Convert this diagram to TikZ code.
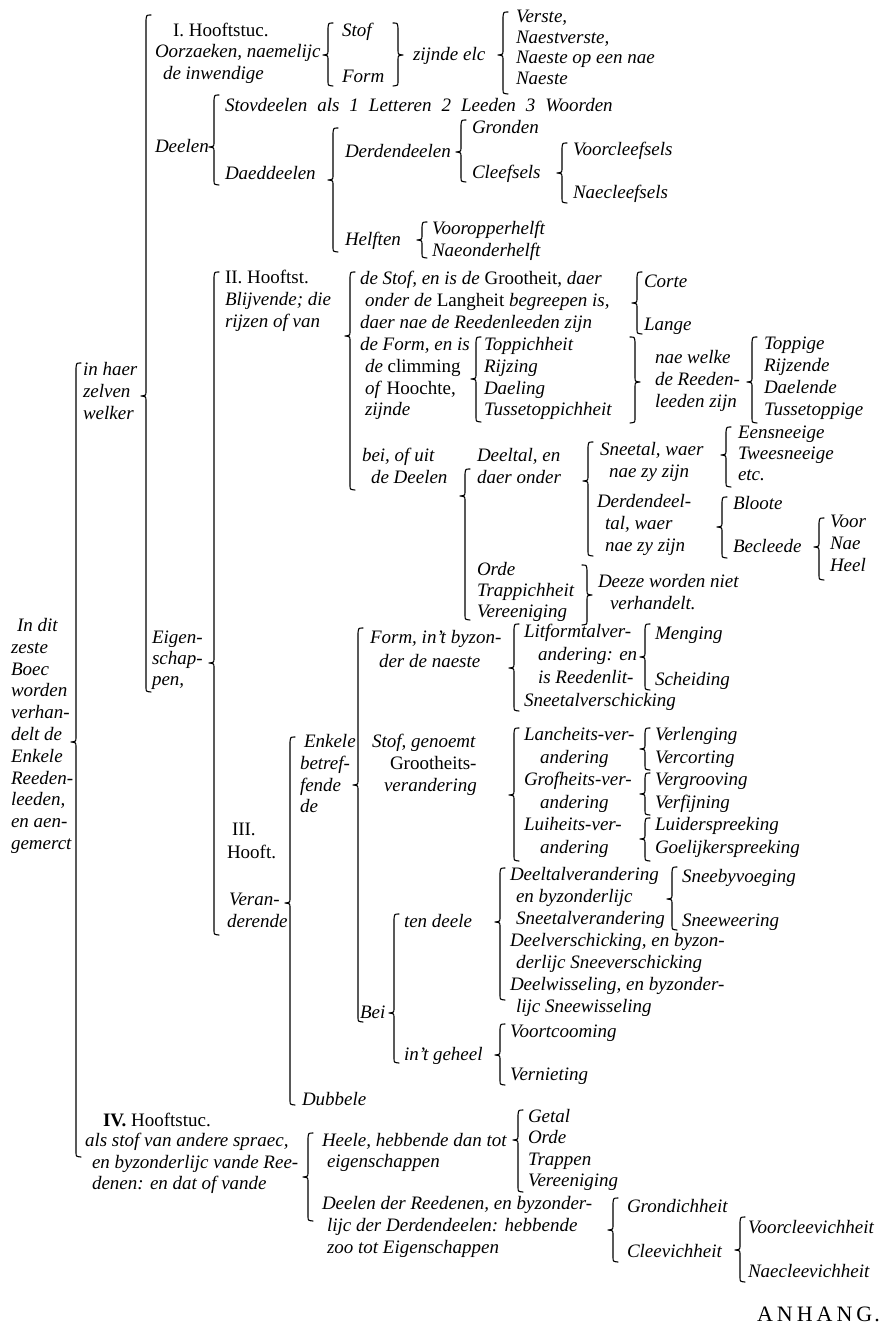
\documentclass[tikz,border=0pt]{standalone}
\usepackage{fontspec}
\setmainfont{Liberation Serif}
\newcommand{\tf}{\fontsize{19}{21.8}\selectfont\itshape}
\newcommand{\brL}[4]{\draw[br] (#1+5,#2) .. controls (#1+0.5,#2) .. (#1,#2+5) -- (#1,#4-5) .. controls (#1,#4-0.5) .. (#1-5,#4) .. controls (#1,#4+0.5) .. (#1,#4+5) -- (#1,#3-5) .. controls (#1,#3-0.5) .. (#1+5,#3);}
\newcommand{\brR}[4]{\draw[br] (#1-5,#2) .. controls (#1-0.5,#2) .. (#1,#2+5) -- (#1,#4-5) .. controls (#1,#4-0.5) .. (#1+5,#4) .. controls (#1,#4+0.5) .. (#1,#4+5) -- (#1,#3-5) .. controls (#1,#3-0.5) .. (#1-5,#3);}
\tikzset{
  txt/.style={anchor=north west, inner sep=0pt, outer sep=0pt, align=left, font=\tf, yshift=9.76pt, execute at begin node={\strut}},
  utxt/.style={txt, font=\tf\upshape},
  br/.style={line width=1.1pt, line cap=round, line join=round},
}
\begin{document}
\begin{tikzpicture}[x=1pt,y=-1pt]
\useasboundingbox (0,0) rectangle (890,1327);
\fill[white] (0,0) rectangle (890,1327);

% ---------- root ----------
\node[txt] (root) at (11,628) {\hspace*{6pt}In dit\\zeste\\Boec\\worden\\verhan-\\delt de\\Enkele\\Reeden-\\leeden,\\en aen-\\gemerct};
\node[txt] (haer) at (83,372) {in haer\\zelven\\welker};

% ---------- I ----------
\node[utxt] (h1) at (173,31) {I. Hooftstuc.};
\node[txt] (oorz) at (155,54) {Oorzaeken, naemelijc\\\hspace*{8pt}de inwendige};
\node[txt] (stof) at (342,31) {Stof};
\node[txt] (form) at (342,77) {Form};
\node[txt] (zijnde) at (413,55) {zijnde elc};
\node[txt] (verste) at (516,20) {Verste,\\[-1.3pt]Naestverste,\\[-1.3pt]Naeste op een nae\\[-1.3pt]Naeste};
\node[txt] (stov) at (225,106) {\spaceskip=10pt plus 1pt\relax Stovdeelen als 1 Letteren 2 Leeden 3 Woorden};
\node[txt] (deelen) at (155,147) {Deelen};
\node[txt] (daed) at (225,174) {Daeddeelen};
\node[txt] (derd) at (345,152) {Derdendeelen};
\node[txt] (gronden) at (472,128) {Gronden};
\node[txt] (cleef) at (472,173) {Cleefsels};
\node[txt] (voorcl) at (573,150) {Voorcleefsels};
\node[txt] (naecl) at (573,193) {Naecleefsels};
\node[txt] (helften) at (345,240) {Helften};
\node[txt] (voorop) at (432,229) {Vooropperhelft};
\node[txt] (naeond) at (432,251) {Naeonderhelft};

% ---------- Eigenschappen / II ----------
\node[txt] (eigen) at (152,641) {Eigen-\\[-0.8pt]schap-\\[-0.8pt]pen,};
\node[txt] (h2) at (225,280) {\textup{II. Hooftst.}\\Blijvende; die\\rijzen of van};
\node[txt] (stof2) at (360,281) {de Stof, en is de \textup{Grootheit,} daer\\\hspace*{5pt}onder de \textup{Langheit} begreepen is,\\daer nae de Reedenleeden zijn};
\node[txt] (corte) at (644,282) {Corte};
\node[txt] (lange) at (644,325) {Lange};
\node[txt] (form2) at (360,347) {de Form, en is\\\hspace*{5pt}de \textup{climming}\\\hspace*{5pt}of \textup{Hoochte,}\\\hspace*{5pt}zijnde};
\node[txt] (toppich) at (484,347) {Toppichheit\\Rijzing\\Daeling\\Tussetoppichheit};
\node[txt] (naewelke) at (655,360) {nae welke\\de Reeden-\\leeden zijn};
\node[txt] (toppige) at (764,347) {Toppige\\Rijzende\\Daelende\\Tussetoppige};
\node[txt] (bei) at (362,458) {bei, of uit\\\hspace*{9pt}de Deelen};
\node[txt] (deeltal) at (477,458) {Deeltal, en\\daer onder};
\node[txt] (sneetal) at (600,452) {Sneetal, waer\\\hspace*{9pt}nae zy zijn};
\node[txt] (eens) at (738,436) {Eensneeige\\[-0.8pt]Tweesneeige\\[-0.8pt]etc.};
\node[txt] (derdtal) at (597,504) {Derdendeel-\\\hspace*{8pt}tal, waer\\\hspace*{8pt}nae zy zijn};
\node[txt] (bloote) at (733,504) {Bloote};
\node[txt] (becleede) at (733,547) {Becleede};
\node[txt] (voor) at (830,525) {Voor\\Nae\\Heel};
\node[txt] (orde) at (477,572) {Orde\\[-0.8pt]Trappichheit\\[-0.8pt]Vereeniging};
\node[txt] (deeze) at (598,584) {Deeze worden niet\\\hspace*{12pt}verhandelt.};

% ---------- III ----------
\node[utxt] (h3) at (227,833) {\hspace*{5pt}III.\\[1.2pt]Hooft.};
\node[txt] (veran) at (227,903) {\hspace*{2pt}Veran-\\derende};
\node[txt] (enkele) at (300,744) {\hspace*{4pt}Enkele\\betref-\\fende\\de};
\node[txt] (formb) at (370,640) {Form, in’t byzon-\\[2pt]\hspace*{9pt}der de naeste};
\node[txt] (litform) at (524,634) {Litformtalver-\\[1pt]\hspace*{14pt}andering: en\\[1pt]\hspace*{14pt}is Reedenlit-\\[1pt]Sneetalverschicking};
\node[txt] (menging) at (655,634) {Menging};
\node[txt] (scheiding) at (655,680) {Scheiding};
\node[txt] (stofb) at (372,744) {Stof, genoemt\\\hspace*{18pt}\textup{Grootheits-}\\\hspace*{12pt}verandering};
\node[txt] (lanch) at (524,737) {Lancheits-ver-\\[0.8pt]\hspace*{16pt}andering\\[0.8pt]Grofheits-ver-\\[0.8pt]\hspace*{16pt}andering\\[0.8pt]Luiheits-ver-\\[0.8pt]\hspace*{16pt}andering};
\node[txt] (verl) at (655,737) {Verlenging\\[0.8pt]Vercorting\\[0.8pt]Vergrooving\\[0.8pt]Verfijning\\[0.8pt]Luiderspreeking\\[0.8pt]Goelijkerspreeking};
\node[txt] (tendeele) at (404,922) {ten deele};
\node[txt] (bei2) at (360,1013) {Bei};
\node[txt] (geheel) at (404,1055) {in’t geheel};
\node[txt] (deeltalv) at (510,877) {Deeltalverandering\\[0.2pt]\hspace*{6pt}en byzonderlijc\\[0.2pt]\hspace*{6pt}Sneetalverandering\\[0.2pt]Deelverschicking, en byzon-\\[0.2pt]\hspace*{6pt}derlijc Sneeverschicking\\[0.2pt]Deelwisseling, en byzonder-\\[0.2pt]\hspace*{6pt}lijc Sneewisseling};
\node[txt] (sneeby) at (682,877) {Sneebyvoeging};
\node[txt] (sneew) at (682,921) {Sneeweering};
\node[txt] (voort) at (510,1032) {Voortcooming};
\node[txt] (vern) at (510,1075) {Vernieting};
\node[txt] (dubbele) at (302,1100) {Dubbele};

% ---------- IV ----------
\node[utxt] (h4) at (103,1121) {\textbf{IV.} Hooftstuc.};
\node[txt] (alsstof) at (85,1143) {als stof van andere spraec,\\[-0.3pt]\hspace*{7pt}en byzonderlijc vande Ree-\\[-0.3pt]\hspace*{7pt}denen: en dat of vande};
\node[txt] (heele) at (322,1143) {Heele, hebbende dan tot\\[-0.8pt]\hspace*{5pt}eigenschappen};
\node[txt] (deelender) at (322,1206) {Deelen der Reedenen, en byzonder-\\\hspace*{5pt}lijc der Derdendeelen: hebbende\\\hspace*{5pt}zoo tot Eigenschappen};
\node[txt] (getal) at (528,1119) {Getal\\[-0.4pt]Orde\\[-0.4pt]Trappen\\[-0.4pt]Vereeniging};
\node[txt] (grond) at (627,1207) {Grondichheit};
\node[txt] (cleev) at (627,1252) {Cleevichheit};
\node[txt] (voorclv) at (748,1228) {Voorcleevichheit};
\node[txt] (naeclv) at (748,1272) {Naecleevichheit};
\node[utxt, font=\fontsize{22}{21.8}\selectfont\upshape] (anhang) at (757,1316) {A\kern4pt N\kern4pt H\kern4pt A\kern4pt N\kern4pt G\kern2pt .};

% ---------- braces ----------
\brL{76}{363}{1157}{742}
\brL{146}{15}{692}{396}
\brL{328}{23}{86}{55}
\brR{398}{23}{86}{55}
\brL{503}{12}{94}{55}
\brL{214}{95}{185}{147}
\brL{333}{128}{252}{180}
\brL{461}{120}{182}{152}
\brL{562}{143}{203}{173}
\brL{422}{222}{258}{240}
\brL{214}{272}{935}{663}
\brL{350}{272}{490}{336}
\brL{637}{272}{334}{303}
\brL{476}{337}{422}{379}
\brR{635}{337}{423}{382}
\brL{752}{337}{423}{382}
\brL{465}{469}{620}{496}
\brL{588}{442}{556}{481}
\brL{726}{427}{487}{455}
\brL{722}{497}{558}{527}
\brL{819}{518}{580}{547}
\brR{587}{565}{625}{595}
\brL{290}{737}{1105}{903}
\brL{358}{628}{1022}{785}
\brL{514}{624}{711}{668}
\brL{645}{624}{690}{657}
\brL{514}{728}{861}{795}
\brL{645}{728}{770}{749}
\brL{645}{773}{815}{794}
\brL{645}{818}{861}{839}
\brL{394}{914}{1063}{1013}
\brL{500}{868}{1000}{922}
\brL{672}{867}{930}{899}
\brL{500}{1024}{1085}{1055}
\brL{308}{1133}{1221}{1177}
\brL{518}{1110}{1192}{1140}
\brL{613}{1198}{1262}{1230}
\brL{740}{1217}{1282}{1250}
\end{tikzpicture}
\end{document}
